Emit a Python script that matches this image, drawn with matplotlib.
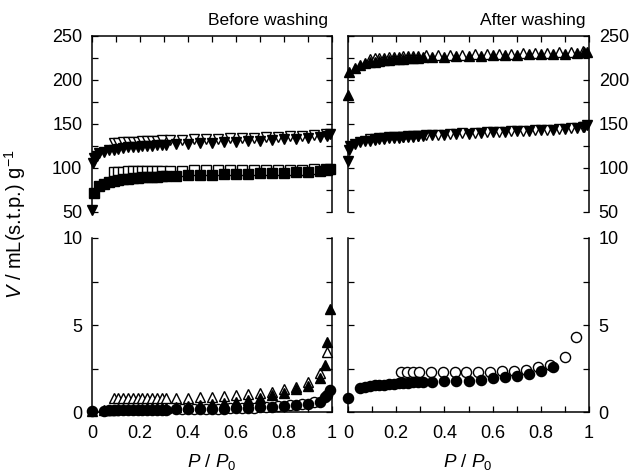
import matplotlib
matplotlib.use('Agg')
import matplotlib.pyplot as plt
from matplotlib.ticker import MultipleLocator

plt.rcParams['font.family'] = ['Liberation Sans', 'DejaVu Sans']
plt.rcParams['mathtext.fontset'] = 'custom'
plt.rcParams['mathtext.it'] = 'Liberation Sans:italic'
plt.rcParams['mathtext.rm'] = 'Liberation Sans'
plt.rcParams['mathtext.sf'] = 'Liberation Sans'

# ---------------- data ----------------
# Before washing (top-left panel, 50-250)
bw_sq_fill_p = [0.01, 0.03, 0.05, 0.07, 0.09, 0.11, 0.13, 0.15, 0.17, 0.19, 0.21, 0.23, 0.25, 0.27, 0.29, 0.31,
                0.35, 0.40, 0.45, 0.50, 0.55, 0.60, 0.65, 0.70, 0.75, 0.80, 0.85, 0.90, 0.95, 0.98, 0.99]
bw_sq_fill_v = [72, 79, 82, 84, 85.5, 86.5, 87.3, 88, 88.5, 89, 89.4, 89.7, 90, 90.3, 90.6, 90.9,
                91.2, 91.6, 92, 92.4, 92.8, 93.2, 93.6, 94, 94.4, 94.8, 95.2, 95.7, 96.3, 97.2, 98.5]
bw_sq_open_p = [0.09, 0.11, 0.13, 0.15, 0.17, 0.19, 0.21, 0.23, 0.25, 0.27, 0.29, 0.325, 0.375, 0.425,
                0.475, 0.525, 0.575, 0.625, 0.675, 0.725, 0.775, 0.825, 0.875, 0.925, 0.975]
bw_sq_open_v = [95.5, 95.8, 96, 96.2, 96.3, 96.4, 96.5, 96.6, 96.7, 96.8, 96.9, 97, 97.1, 97.2,
                97.3, 97.4, 97.5, 97.6, 97.7, 97.8, 97.9, 98, 98.2, 98.4, 99]
bw_td_fill_p = [0.0, 0.005, 0.01, 0.02, 0.03, 0.05, 0.07, 0.09, 0.11, 0.13, 0.15, 0.17, 0.19, 0.21, 0.23,
                0.25, 0.27, 0.29, 0.31, 0.35, 0.40, 0.45, 0.50, 0.55, 0.60, 0.65, 0.70, 0.75, 0.80,
                0.85, 0.90, 0.95, 0.98, 0.99]
bw_td_fill_v = [52, 106, 111, 114, 116.5, 118.5, 120, 121, 122, 122.7, 123.3, 123.8, 124.3, 124.7, 125.1,
                125.5, 125.8, 126.1, 126.4, 127, 127.6, 128.2, 128.8, 129.4, 130, 130.6, 131.2, 131.8, 132.4,
                133, 133.8, 134.8, 136.5, 139]
bw_td_open_p = [0.09, 0.11, 0.13, 0.15, 0.17, 0.19, 0.21, 0.23, 0.25, 0.27, 0.29, 0.325, 0.375, 0.425,
                0.475, 0.525, 0.575, 0.625, 0.675, 0.725, 0.775, 0.825, 0.875, 0.925, 0.975]
bw_td_open_v = [128, 128.5, 129, 129.4, 129.8, 130.1, 130.4, 130.7, 131, 131.2, 131.4, 131.8, 132.2, 132.6,
                133, 133.4, 133.8, 134.2, 134.6, 135, 135.4, 135.8, 136.3, 137, 138.5]

# After washing (top-right panel, 50-250)
aw_tu_fill_p = [0.0, 0.005, 0.03, 0.05, 0.07, 0.09, 0.11, 0.13, 0.15, 0.17, 0.19, 0.21, 0.23, 0.25, 0.27,
                0.29, 0.31, 0.35, 0.40, 0.45, 0.50, 0.55, 0.60, 0.65, 0.70, 0.75, 0.80, 0.85, 0.90, 0.95,
                0.98, 0.99]
aw_tu_fill_v = [183, 209, 214, 217, 219, 220, 221, 221.7, 222.3, 222.9, 223.4, 223.9, 224.3, 224.7, 225.1,
                225.4, 225.7, 226.1, 226.5, 226.9, 227.3, 227.6, 228, 228.3, 228.6, 229, 229.3, 229.6, 230,
                230.5, 231.3, 232]
aw_tu_open_p = [0.09, 0.11, 0.13, 0.15, 0.17, 0.19, 0.21, 0.23, 0.25, 0.27, 0.29, 0.325, 0.375, 0.425,
                0.475, 0.525, 0.575, 0.625, 0.675, 0.725, 0.775, 0.825, 0.875, 0.925, 0.975]
aw_tu_open_v = [224, 224.5, 225, 225.5, 225.9, 226.2, 226.5, 226.8, 227.1, 227.3, 227.5, 227.9, 228.3, 228.6,
                228.9, 229.2, 229.5, 229.8, 230.1, 230.4, 230.7, 231, 231.3, 231.7, 232.5]
aw_td_fill_p = [0.0, 0.005, 0.01, 0.03, 0.05, 0.07, 0.09, 0.11, 0.13, 0.15, 0.17, 0.19, 0.21, 0.23, 0.25,
                0.27, 0.29, 0.31, 0.35, 0.40, 0.45, 0.50, 0.55, 0.60, 0.65, 0.70, 0.75, 0.80, 0.85, 0.90,
                0.95, 0.98, 0.99]
aw_td_fill_v = [108, 120.5, 125, 127.5, 129, 130.3, 131.2, 132, 132.6, 133.2, 133.7, 134.1, 134.5, 134.9,
                135.3, 135.6, 135.9, 136.2, 137, 137.8, 138.5, 139.2, 140, 140.7, 141.3, 141.9, 142.5, 143,
                143.5, 144, 145, 147, 149]
aw_td_open_p = [0.09, 0.11, 0.13, 0.15, 0.17, 0.19, 0.21, 0.23, 0.25, 0.27, 0.29, 0.325, 0.375, 0.425,
                0.475, 0.525, 0.575, 0.625, 0.675, 0.725, 0.775, 0.825, 0.875, 0.925, 0.975]
aw_td_open_v = [133, 133.5, 134, 134.4, 134.8, 135.1, 135.4, 135.7, 136, 136.3, 136.6, 137.2, 137.9, 138.6,
                139.3, 140, 140.6, 141.2, 141.8, 142.4, 143, 143.6, 144.2, 145, 147]

# Before washing (bottom-left panel, 0-10)
bw_tu_fill_p = [0.0, 0.05, 0.07, 0.09, 0.11, 0.13, 0.15, 0.17, 0.19, 0.21, 0.23, 0.25, 0.27, 0.29, 0.31,
                0.35, 0.40, 0.45, 0.50, 0.55, 0.60, 0.65, 0.70, 0.75, 0.80, 0.85, 0.90, 0.95, 0.97, 0.98, 0.99]
bw_tu_fill_v = [0.05, 0.1, 0.12, 0.14, 0.15, 0.16, 0.17, 0.18, 0.19, 0.2, 0.21, 0.22, 0.23, 0.24, 0.25,
                0.3, 0.35, 0.4, 0.45, 0.52, 0.6, 0.7, 0.82, 0.95, 1.1, 1.3, 1.5, 1.95, 2.7, 4.0, 5.9]
bw_tu_open_p = [0.09, 0.11, 0.13, 0.15, 0.17, 0.19, 0.21, 0.23, 0.25, 0.27, 0.29, 0.31,
                0.35, 0.40, 0.45, 0.50, 0.55, 0.60, 0.65, 0.70, 0.75, 0.80, 0.85, 0.90, 0.95, 0.98]
bw_tu_open_v = [0.78, 0.78, 0.78, 0.78, 0.78, 0.78, 0.78, 0.78, 0.78, 0.78, 0.78, 0.78,
                0.8, 0.82, 0.85, 0.88, 0.92, 0.97, 1.02, 1.08, 1.17, 1.3, 1.45, 1.72, 2.25, 3.47]
bw_ci_fill_p = [0.0, 0.05, 0.07, 0.09, 0.11, 0.13, 0.15, 0.17, 0.19, 0.21, 0.23, 0.25, 0.27, 0.29, 0.31,
                0.35, 0.40, 0.45, 0.50, 0.55, 0.60, 0.65, 0.70, 0.75, 0.80, 0.85, 0.90, 0.95, 0.97, 0.98, 0.99]
bw_ci_fill_v = [0.03, 0.08, 0.09, 0.1, 0.1, 0.1, 0.11, 0.11, 0.12, 0.12, 0.12, 0.13, 0.13, 0.13, 0.14,
                0.15, 0.16, 0.17, 0.18, 0.2, 0.22, 0.24, 0.27, 0.3, 0.35, 0.4, 0.45, 0.6, 0.85, 1.0, 1.25]
bw_ci_open_p = [0.375, 0.425, 0.475, 0.525, 0.575, 0.625, 0.675, 0.725, 0.775, 0.825, 0.875, 0.925]
bw_ci_open_v = [0.15, 0.16, 0.17, 0.19, 0.21, 0.23, 0.25, 0.28, 0.32, 0.38, 0.45, 0.55]

# After washing (bottom-right panel, 0-10)
aw_ci_fill_p = [0.0, 0.05, 0.07, 0.09, 0.11, 0.13, 0.15, 0.17, 0.19, 0.21, 0.23, 0.25, 0.27, 0.29, 0.31,
                0.35, 0.40, 0.45, 0.50, 0.55, 0.60, 0.65, 0.70, 0.75, 0.80, 0.85]
aw_ci_fill_v = [0.8, 1.4, 1.45, 1.5, 1.53, 1.56, 1.58, 1.6, 1.62, 1.64, 1.66, 1.68, 1.7, 1.72, 1.74,
                1.74, 1.76, 1.78, 1.8, 1.85, 1.95, 2.03, 2.08, 2.18, 2.36, 2.6]
aw_ci_open_p = [0.22, 0.245, 0.27, 0.295, 0.345, 0.395, 0.445, 0.49, 0.54, 0.59, 0.64, 0.69, 0.74, 0.79,
                0.84, 0.90, 0.946]
aw_ci_open_v = [2.28, 2.28, 2.28, 2.28, 2.28, 2.28, 2.28, 2.28, 2.28, 2.3, 2.33, 2.35, 2.42, 2.57,
                2.72, 3.18, 4.29]

x_ticklabels = ['0', '0.2', '0.4', '0.6', '0.8', '1']

# ---------------- figure ----------------
W, H = 633, 473
fig = plt.figure(figsize=(W / 100, H / 100), dpi=100)


def box(l, t, r, b):
    return [l / W, 1 - b / H, (r - l) / W, (b - t) / H]


ax_tl = fig.add_axes(box(92, 36, 332, 212))
ax_tr = fig.add_axes(box(348, 36, 589, 212))
ax_bl = fig.add_axes(box(92, 238, 332, 412))
ax_br = fig.add_axes(box(348, 238, 589, 412))

TICKFS = 13
for ax in (ax_tl, ax_tr, ax_bl, ax_br):
    ax.set_xlim(0, 1)
    for s in ax.spines.values():
        s.set_linewidth(1.1)
    ax.tick_params(which='both', direction='in', length=4, width=0.9, labelsize=TICKFS, pad=7,
                   left=True, right=True)

for ax in (ax_tl, ax_tr):
    ax.set_ylim(50, 250)
    ax.spines['bottom'].set_visible(False)
    ax.xaxis.set_major_locator(MultipleLocator(0.1))
    ax.tick_params(axis='x', which='both', top=True, bottom=False, labeltop=False, labelbottom=False)
    ax.yaxis.set_major_locator(MultipleLocator(50))
    ax.yaxis.set_minor_locator(MultipleLocator(25))

for ax in (ax_bl, ax_br):
    ax.set_ylim(0, 10)
    ax.spines['top'].set_visible(False)
    ax.set_xticks([0, 0.2, 0.4, 0.6, 0.8, 1.0])
    ax.set_xticklabels(x_ticklabels)
    ax.xaxis.set_minor_locator(MultipleLocator(0.1))
    ax.tick_params(axis='x', which='both', top=False, bottom=True, pad=9)
    ax.yaxis.set_major_locator(MultipleLocator(5))
    ax.yaxis.set_minor_locator(MultipleLocator(2.5))

for ax in (ax_tl, ax_bl):
    ax.tick_params(axis='y', labelleft=True, labelright=False)
for ax in (ax_tr, ax_br):
    ax.tick_params(axis='y', labelleft=False, labelright=True)

MS = 7.8
kw_f = dict(ls='none', color='black', mfc='black', mec='black', clip_on=False, zorder=4)
kw_o = dict(ls='none', color='black', mfc='white', mec='black', mew=1.0, clip_on=False, zorder=3)

# top-left
ax_tl.plot(bw_sq_open_p, bw_sq_open_v, marker='s', ms=MS - 1.2, **kw_o)
ax_tl.plot(bw_sq_fill_p, bw_sq_fill_v, marker='s', ms=MS - 1.2, **kw_f)
ax_tl.plot(bw_td_open_p, bw_td_open_v, marker='v', ms=MS, **kw_o)
ax_tl.plot(bw_td_fill_p, bw_td_fill_v, marker='v', ms=MS, **kw_f)

# top-right
ax_tr.plot(aw_tu_open_p, aw_tu_open_v, marker='^', ms=MS, **kw_o)
ax_tr.plot(aw_tu_fill_p, aw_tu_fill_v, marker='^', ms=MS, **kw_f)
ax_tr.plot(aw_td_open_p, aw_td_open_v, marker='v', ms=MS, **kw_o)
ax_tr.plot(aw_td_fill_p, aw_td_fill_v, marker='v', ms=MS, **kw_f)

# bottom-left
ax_bl.plot(bw_tu_open_p, bw_tu_open_v, marker='^', ms=MS, **kw_o)
ax_bl.plot(bw_tu_fill_p, bw_tu_fill_v, marker='^', ms=MS, **kw_f)
ax_bl.plot(bw_ci_open_p, bw_ci_open_v, marker='o', ms=MS - 0.5, **kw_o)
ax_bl.plot(bw_ci_fill_p, bw_ci_fill_v, marker='o', ms=MS - 0.5, **kw_f)

# bottom-right
ax_br.plot(aw_ci_open_p, aw_ci_open_v, marker='o', ms=MS - 0.5, **kw_o)
ax_br.plot(aw_ci_fill_p, aw_ci_fill_v, marker='o', ms=MS - 0.5, **kw_f)

# texts
fig.text(328 / W, 1 - 20 / H, 'Before washing', ha='right', va='center', fontsize=12.5)
fig.text(585 / W, 1 - 20 / H, 'After washing', ha='right', va='center', fontsize=12.5)
fig.text(15 / W, 1 - 224 / H, r'$V$ / mL(s.t.p.) g$^{-1}$', rotation=90, ha='center', va='center',
         fontsize=14.5)
fig.text(212 / W, 1 - 462 / H, r'$P$ / $P_0$', ha='center', va='center', fontsize=13.5)
fig.text(468 / W, 1 - 462 / H, r'$P$ / $P_0$', ha='center', va='center', fontsize=13.5)

fig.savefig('out.png', dpi=100)
